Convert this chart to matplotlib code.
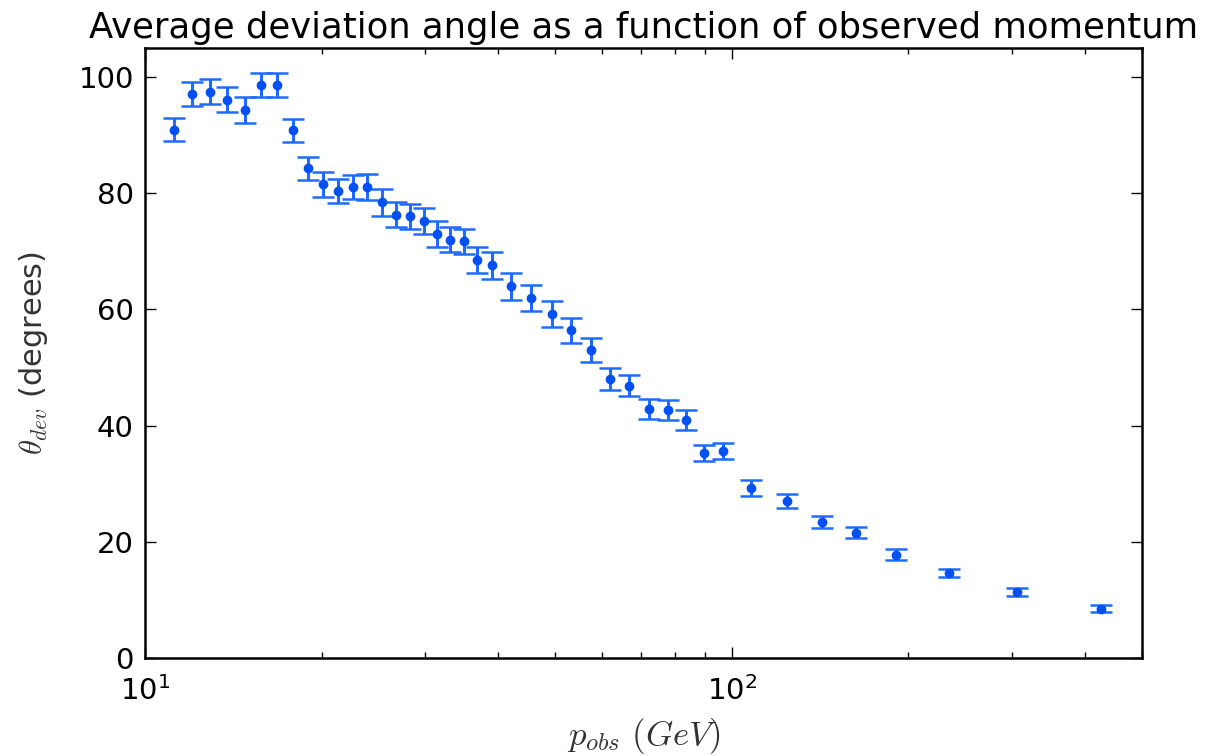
import numpy as np
import matplotlib
matplotlib.use("Agg")
import matplotlib.pyplot as plt

# ------------------------------------------------------------
# Datos leidos del grafico (momento observado, angulo medio, error)
# ------------------------------------------------------------
p_obs = [11.2, 12.05, 12.9, 13.8, 14.8, 15.75, 16.8, 17.85, 18.95, 20.1,
         21.3, 22.6, 23.9, 25.3, 26.8, 28.3, 29.85, 31.5, 33.1, 34.9,
         36.8, 38.95, 42.0, 45.5, 49.3, 53.2, 57.6, 62.0, 66.9, 72.2,
         77.7, 83.7, 89.8, 96.6, 108.0, 124.2, 142.4, 162.9, 190.6, 234.3,
         305.6, 426.4]

theta_dev = [90.9, 97.1, 97.5, 96.1, 94.3, 98.6, 98.6, 90.8, 84.3, 81.5,
             80.4, 81.1, 81.1, 78.4, 76.3, 76.0, 75.2, 73.0, 72.0, 71.7,
             68.5, 67.6, 64.0, 62.0, 59.2, 56.4, 53.0, 48.0, 46.9, 42.9,
             42.7, 40.9, 35.3, 35.6, 29.3, 27.0, 23.4, 21.6, 17.8, 14.7,
             11.4, 8.5]

theta_err = [2.0, 2.1, 2.1, 2.1, 2.2, 2.1, 2.1, 2.0, 2.0, 2.1,
             2.1, 2.1, 2.2, 2.3, 2.2, 2.2, 2.2, 2.2, 2.2, 2.2,
             2.2, 2.3, 2.3, 2.2, 2.2, 2.1, 2.1, 1.9, 1.8, 1.7,
             1.7, 1.7, 1.4, 1.4, 1.4, 1.2, 1.1, 1.0, 0.9, 0.7,
             0.7, 0.6]

plt.rcParams["mathtext.fontset"] = "cm"
plt.rcParams["font.family"] = "DejaVu Sans"

fig = plt.figure(figsize=(12.13, 7.56), dpi=100)
ax = fig.add_axes([0.1195, 0.1296, 0.822, 0.807])

cont = ax.errorbar(p_obs, theta_dev, yerr=theta_err, fmt="o",
                   color="#0050f5", ecolor="#1f6bff", markersize=6,
                   elinewidth=2.2, capsize=8, capthick=1.8)
for cap in cont[1]:
    cap.set_color("#5a98ff")

ax.set_xscale("log")
ax.set_xlim(10, 500)
ax.set_ylim(0, 105)
ax.set_yticks([0, 20, 40, 60, 80, 100])

ax.tick_params(which="both", direction="in", top=True, right=True,
               labelsize=21)
ax.tick_params(which="major", length=8, width=1)
ax.tick_params(which="minor", length=4, width=1)
ax.tick_params(axis="x", pad=13)
ax.tick_params(axis="y", pad=8)
for s in ax.spines.values():
    s.set_linewidth(1.8)

ax.set_title("Average deviation angle as a function of observed momentum",
             fontsize=25.5, pad=7)
ax.set_xlabel(r"$p_{obs}\ (GeV)$", fontsize=25, color="#333333")
ax.set_ylabel(r"$\theta_{dev}$ (degrees)", fontsize=22, color="#333333")
ax.xaxis.set_label_coords(0.5, -0.095)
ax.yaxis.set_label_coords(-0.095, 0.5)

fig.savefig("out.png", dpi=100)
